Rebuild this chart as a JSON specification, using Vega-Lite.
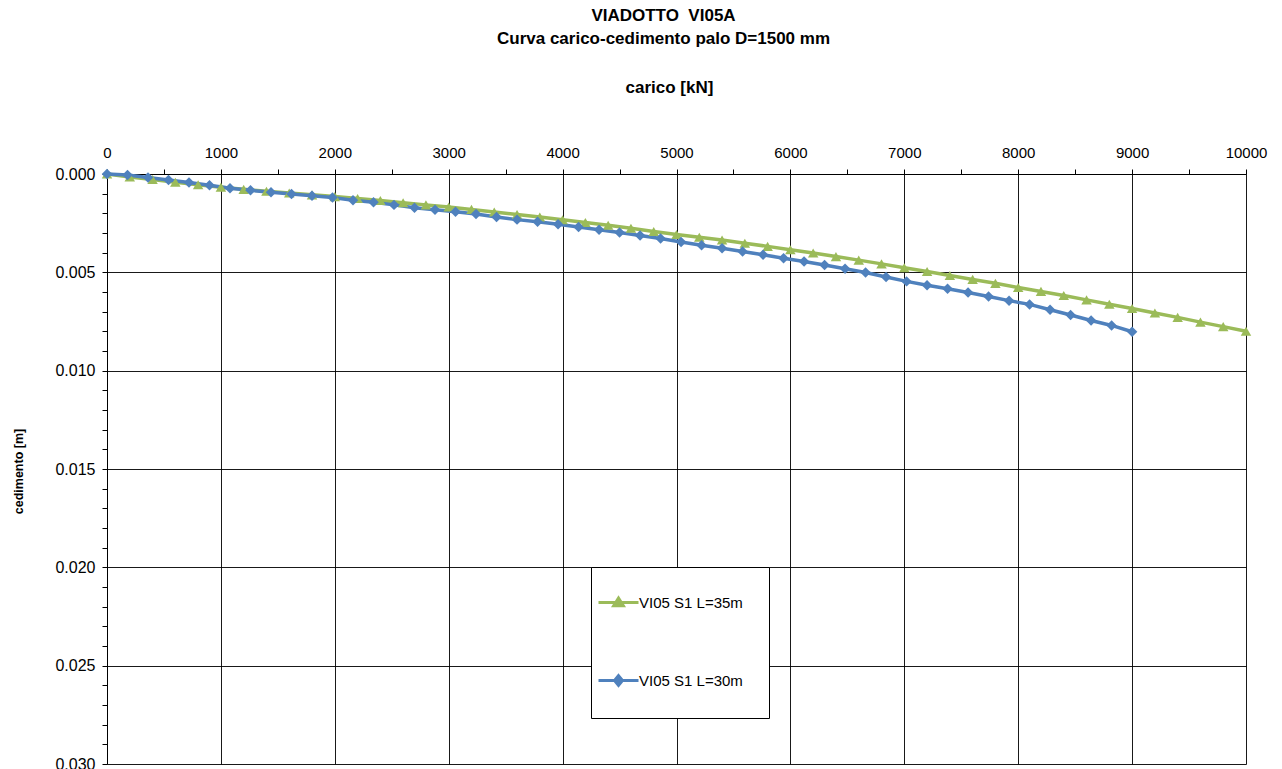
{
  "$schema": "https://vega.github.io/schema/vega-lite/v6.json",
  "width": 1139,
  "height": 590,
  "autosize": "none",
  "padding": {"left": 107, "top": 174, "right": 36, "bottom": 5},
  "background": "white",
  "config": {
    "font": "Liberation Sans",
    "view": {"stroke": null},
    "axis": {"labelColor": "black", "titleColor": "black", "domainColor": "black", "tickColor": "black", "gridColor": "black", "labelFont": "Liberation Sans", "titleFont": "Liberation Sans"}
  },
  "title": {
    "text": ["VIADOTTO \u00a0VI05A", "Curva carico-cedimento palo D=1500 mm"],
    "fontSize": 17,
    "fontWeight": "bold",
    "color": "black",
    "anchor": "middle",
    "dx": -13,
    "lineHeight": 23,
    "offset": 30
  },
  "data": {
    "values": [
      {"s": "VI05 S1 L=35m", "x": 0, "y": 0.0},
      {"s": "VI05 S1 L=35m", "x": 200, "y": 0.00015},
      {"s": "VI05 S1 L=35m", "x": 400, "y": 0.00028},
      {"s": "VI05 S1 L=35m", "x": 600, "y": 0.00042},
      {"s": "VI05 S1 L=35m", "x": 800, "y": 0.00055},
      {"s": "VI05 S1 L=35m", "x": 1000, "y": 0.00067},
      {"s": "VI05 S1 L=35m", "x": 1200, "y": 0.00078},
      {"s": "VI05 S1 L=35m", "x": 1400, "y": 0.00088},
      {"s": "VI05 S1 L=35m", "x": 1600, "y": 0.00097},
      {"s": "VI05 S1 L=35m", "x": 1800, "y": 0.00106},
      {"s": "VI05 S1 L=35m", "x": 2000, "y": 0.00115},
      {"s": "VI05 S1 L=35m", "x": 2200, "y": 0.00125},
      {"s": "VI05 S1 L=35m", "x": 2400, "y": 0.00135},
      {"s": "VI05 S1 L=35m", "x": 2600, "y": 0.00146},
      {"s": "VI05 S1 L=35m", "x": 2800, "y": 0.00157},
      {"s": "VI05 S1 L=35m", "x": 3000, "y": 0.00168},
      {"s": "VI05 S1 L=35m", "x": 3200, "y": 0.00180},
      {"s": "VI05 S1 L=35m", "x": 3400, "y": 0.00193},
      {"s": "VI05 S1 L=35m", "x": 3600, "y": 0.00206},
      {"s": "VI05 S1 L=35m", "x": 3800, "y": 0.00219},
      {"s": "VI05 S1 L=35m", "x": 4000, "y": 0.00233},
      {"s": "VI05 S1 L=35m", "x": 4200, "y": 0.00247},
      {"s": "VI05 S1 L=35m", "x": 4400, "y": 0.00261},
      {"s": "VI05 S1 L=35m", "x": 4600, "y": 0.00276},
      {"s": "VI05 S1 L=35m", "x": 4800, "y": 0.00292},
      {"s": "VI05 S1 L=35m", "x": 5000, "y": 0.00308},
      {"s": "VI05 S1 L=35m", "x": 5200, "y": 0.00322},
      {"s": "VI05 S1 L=35m", "x": 5400, "y": 0.00336},
      {"s": "VI05 S1 L=35m", "x": 5600, "y": 0.00352},
      {"s": "VI05 S1 L=35m", "x": 5800, "y": 0.00368},
      {"s": "VI05 S1 L=35m", "x": 6000, "y": 0.00385},
      {"s": "VI05 S1 L=35m", "x": 6200, "y": 0.00402},
      {"s": "VI05 S1 L=35m", "x": 6400, "y": 0.00420},
      {"s": "VI05 S1 L=35m", "x": 6600, "y": 0.00438},
      {"s": "VI05 S1 L=35m", "x": 6800, "y": 0.00457},
      {"s": "VI05 S1 L=35m", "x": 7000, "y": 0.00477},
      {"s": "VI05 S1 L=35m", "x": 7200, "y": 0.00496},
      {"s": "VI05 S1 L=35m", "x": 7400, "y": 0.00516},
      {"s": "VI05 S1 L=35m", "x": 7600, "y": 0.00536},
      {"s": "VI05 S1 L=35m", "x": 7800, "y": 0.00556},
      {"s": "VI05 S1 L=35m", "x": 8000, "y": 0.00577},
      {"s": "VI05 S1 L=35m", "x": 8200, "y": 0.00597},
      {"s": "VI05 S1 L=35m", "x": 8400, "y": 0.00618},
      {"s": "VI05 S1 L=35m", "x": 8600, "y": 0.00640},
      {"s": "VI05 S1 L=35m", "x": 8800, "y": 0.00662},
      {"s": "VI05 S1 L=35m", "x": 9000, "y": 0.00684},
      {"s": "VI05 S1 L=35m", "x": 9200, "y": 0.00707},
      {"s": "VI05 S1 L=35m", "x": 9400, "y": 0.00729},
      {"s": "VI05 S1 L=35m", "x": 9600, "y": 0.00753},
      {"s": "VI05 S1 L=35m", "x": 9800, "y": 0.00776},
      {"s": "VI05 S1 L=35m", "x": 10000, "y": 0.00800},
      {"s": "VI05 S1 L=30m", "x": 0, "y": 0.0},
      {"s": "VI05 S1 L=30m", "x": 180, "y": 0.00005},
      {"s": "VI05 S1 L=30m", "x": 360, "y": 0.00018},
      {"s": "VI05 S1 L=30m", "x": 540, "y": 0.00031},
      {"s": "VI05 S1 L=30m", "x": 720, "y": 0.00043},
      {"s": "VI05 S1 L=30m", "x": 900, "y": 0.00057},
      {"s": "VI05 S1 L=30m", "x": 1080, "y": 0.00072},
      {"s": "VI05 S1 L=30m", "x": 1260, "y": 0.00083},
      {"s": "VI05 S1 L=30m", "x": 1440, "y": 0.00093},
      {"s": "VI05 S1 L=30m", "x": 1620, "y": 0.00102},
      {"s": "VI05 S1 L=30m", "x": 1800, "y": 0.00110},
      {"s": "VI05 S1 L=30m", "x": 1980, "y": 0.00119},
      {"s": "VI05 S1 L=30m", "x": 2160, "y": 0.00133},
      {"s": "VI05 S1 L=30m", "x": 2340, "y": 0.00144},
      {"s": "VI05 S1 L=30m", "x": 2520, "y": 0.00157},
      {"s": "VI05 S1 L=30m", "x": 2700, "y": 0.00172},
      {"s": "VI05 S1 L=30m", "x": 2880, "y": 0.00182},
      {"s": "VI05 S1 L=30m", "x": 3060, "y": 0.00192},
      {"s": "VI05 S1 L=30m", "x": 3240, "y": 0.00203},
      {"s": "VI05 S1 L=30m", "x": 3420, "y": 0.00219},
      {"s": "VI05 S1 L=30m", "x": 3600, "y": 0.00232},
      {"s": "VI05 S1 L=30m", "x": 3780, "y": 0.00243},
      {"s": "VI05 S1 L=30m", "x": 3960, "y": 0.00255},
      {"s": "VI05 S1 L=30m", "x": 4140, "y": 0.00270},
      {"s": "VI05 S1 L=30m", "x": 4320, "y": 0.00283},
      {"s": "VI05 S1 L=30m", "x": 4500, "y": 0.00297},
      {"s": "VI05 S1 L=30m", "x": 4680, "y": 0.00313},
      {"s": "VI05 S1 L=30m", "x": 4860, "y": 0.00328},
      {"s": "VI05 S1 L=30m", "x": 5040, "y": 0.00346},
      {"s": "VI05 S1 L=30m", "x": 5220, "y": 0.00362},
      {"s": "VI05 S1 L=30m", "x": 5400, "y": 0.00378},
      {"s": "VI05 S1 L=30m", "x": 5580, "y": 0.00394},
      {"s": "VI05 S1 L=30m", "x": 5760, "y": 0.00411},
      {"s": "VI05 S1 L=30m", "x": 5940, "y": 0.00428},
      {"s": "VI05 S1 L=30m", "x": 6120, "y": 0.00445},
      {"s": "VI05 S1 L=30m", "x": 6300, "y": 0.00463},
      {"s": "VI05 S1 L=30m", "x": 6480, "y": 0.00482},
      {"s": "VI05 S1 L=30m", "x": 6660, "y": 0.00501},
      {"s": "VI05 S1 L=30m", "x": 6840, "y": 0.00524},
      {"s": "VI05 S1 L=30m", "x": 7020, "y": 0.00546},
      {"s": "VI05 S1 L=30m", "x": 7200, "y": 0.00566},
      {"s": "VI05 S1 L=30m", "x": 7380, "y": 0.00583},
      {"s": "VI05 S1 L=30m", "x": 7560, "y": 0.00603},
      {"s": "VI05 S1 L=30m", "x": 7740, "y": 0.00623},
      {"s": "VI05 S1 L=30m", "x": 7920, "y": 0.00644},
      {"s": "VI05 S1 L=30m", "x": 8100, "y": 0.00663},
      {"s": "VI05 S1 L=30m", "x": 8280, "y": 0.00690},
      {"s": "VI05 S1 L=30m", "x": 8460, "y": 0.00717},
      {"s": "VI05 S1 L=30m", "x": 8640, "y": 0.00745},
      {"s": "VI05 S1 L=30m", "x": 8820, "y": 0.00770},
      {"s": "VI05 S1 L=30m", "x": 9000, "y": 0.00802}
    ]
  },
  "encoding": {
    "x": {
      "field": "x",
      "type": "quantitative",
      "scale": {"domain": [0, 10000], "nice": false, "zero": false},
      "axis": {
        "orient": "top",
        "title": "carico [kN]",
        "titleFontSize": 17,
        "titleFontWeight": "bold",
        "titleX": 562,
        "titleY": -87,
        "titleAlign": "center",
        "titleBaseline": "middle",
        "values": [0,500,1000,1500,2000,2500,3000,3500,4000,4500,5000,5500,6000,6500,7000,7500,8000,8500,9000,9500,10000],
        "labelExpr": "datum.value % 1000 === 0 ? format(datum.value, 'd') : ''",
        "labelFontSize": 15,
        "labelPadding": 9,
        "labelFlush": false,
        "labelOverlap": false,
        "tickSize": 5,
        "domainColor": "black",
        "grid": true,
        "gridColor": "black",
        "gridOpacity": {"condition": {"test": "datum.value % 1000 === 0", "value": 0.9}, "value": 0}
      }
    },
    "y": {
      "field": "y",
      "type": "quantitative",
      "scale": {"domain": [0, 0.03], "reverse": true, "nice": false, "zero": false},
      "axis": {
        "orient": "left",
        "title": "cedimento [m]",
        "titleFontSize": 12.5,
        "titleFontWeight": "bold",
        "titleX": -89,
        "titleY": 297,
        "titleAngle": -90,
        "titleAlign": "center",
        "titleBaseline": "middle",
        "values": [0,0.001,0.002,0.003,0.004,0.005,0.006,0.007,0.008,0.009,0.01,0.011,0.012,0.013,0.014,0.015,0.016,0.017,0.018,0.019,0.02,0.021,0.022,0.023,0.024,0.025,0.026,0.027,0.028,0.029,0.03],
        "labelExpr": "round(datum.value*1000) % 5 === 0 ? format(datum.value, '.3f') : ''",
        "labelFontSize": 16,
        "labelPadding": 7,
        "labelOverlap": false,
        "labelFlush": false,
        "tickSize": 5,
        "domainColor": "black",
        "grid": true,
        "gridColor": "black",
        "gridOpacity": {"condition": {"test": "round(datum.value*1000) % 5 === 0", "value": 0.9}, "value": 0}
      }
    },
    "color": {
      "field": "s",
      "type": "nominal",
      "scale": {"domain": ["VI05 S1 L=35m", "VI05 S1 L=30m"], "range": ["#9BBB59", "#4F81BD"]},
      "legend": {
        "title": null,
        "orient": "none",
        "legendX": 484,
        "legendY": 393,
        "direction": "vertical",
        "padding": 26,
        "rowPadding": 57,
        "fillColor": "white",
        "strokeColor": "black",
        "symbolSize": 256,
        "symbolStrokeWidth": 3,
        "labelOffset": 3,
        "labelFontSize": 15,
        "labelColor": "black",
        "labelFont": "Liberation Sans",
        "encode": {
          "symbols": {
            "update": {
              "shape": {"signal": "datum.value === 'VI05 S1 L=35m' ? 'M-3.5,0L1.5,0M-1,-0.55L-0.4,0.4L-1.6,0.4Z' : 'M-3.5,0L1.5,0M-1,-0.6L-0.5,0L-1,0.6L-1.5,0Z'"},
              "fill": {"signal": "datum.value === 'VI05 S1 L=35m' ? '#9BBB59' : '#4F81BD'"},
              "stroke": {"signal": "datum.value === 'VI05 S1 L=35m' ? '#9BBB59' : '#4F81BD'"},
              "strokeWidth": {"value": 3},
              "opacity": {"value": 1}
            }
          }
        }
      }
    }
  },
  "layer": [
    {"mark": {"type": "line", "strokeWidth": 3.5}},
    {
      "transform": [{"filter": "datum.s === 'VI05 S1 L=35m'"}],
      "mark": {"type": "point", "shape": "triangle-up", "filled": true, "opacity": 1, "size": 110}
    },
    {
      "transform": [{"filter": "datum.s === 'VI05 S1 L=30m'"}],
      "mark": {"type": "point", "shape": "diamond", "filled": true, "opacity": 1, "size": 110}
    }
  ]
}
